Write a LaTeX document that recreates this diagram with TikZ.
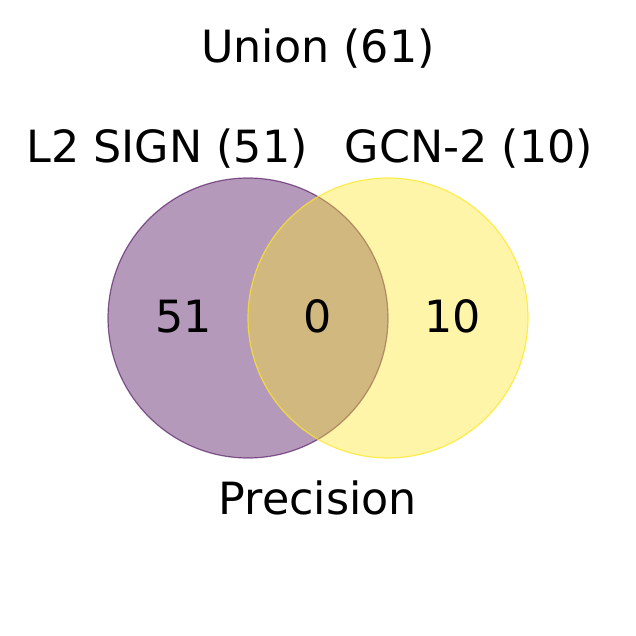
\documentclass[tikz,border=0pt]{standalone}
\usepackage{fontspec}
\setmainfont{DejaVu Sans}
\definecolor{vpurple}{HTML}{440154}
\definecolor{vyellow}{HTML}{FDE725}
\begin{document}
\begin{tikzpicture}[x=1pt,y=-1pt,
  lbl/.style={anchor=base,inner sep=0pt,font=\fontsize{44.4}{50}\selectfont},
  setA/.style={fill=vpurple,fill opacity=0.4,draw=vpurple,draw opacity=0.6,line width=1.2pt},
  setB/.style={fill=vyellow,fill opacity=0.4,draw=vyellow,draw opacity=0.75,line width=1.2pt}]
\useasboundingbox (0,0) rectangle (636,636);
\draw[setA] (248,318) circle[radius=140];
\draw[setB] (388,318) circle[radius=140];
\node[lbl] (union) at (318,63) {Union (61)};
\node[lbl] (la) at (167,163) {L2 SIGN (51)};
\node[lbl] (lb) at (469,163) {GCN-2 (10)};
\node[lbl] (na) at (184,332) {51};
\node[lbl] (nab) at (318,332) {0};
\node[lbl] (nb) at (453,332) {10};
\node[lbl] (prec) at (318,514) {Precision};
\end{tikzpicture}
\end{document}
